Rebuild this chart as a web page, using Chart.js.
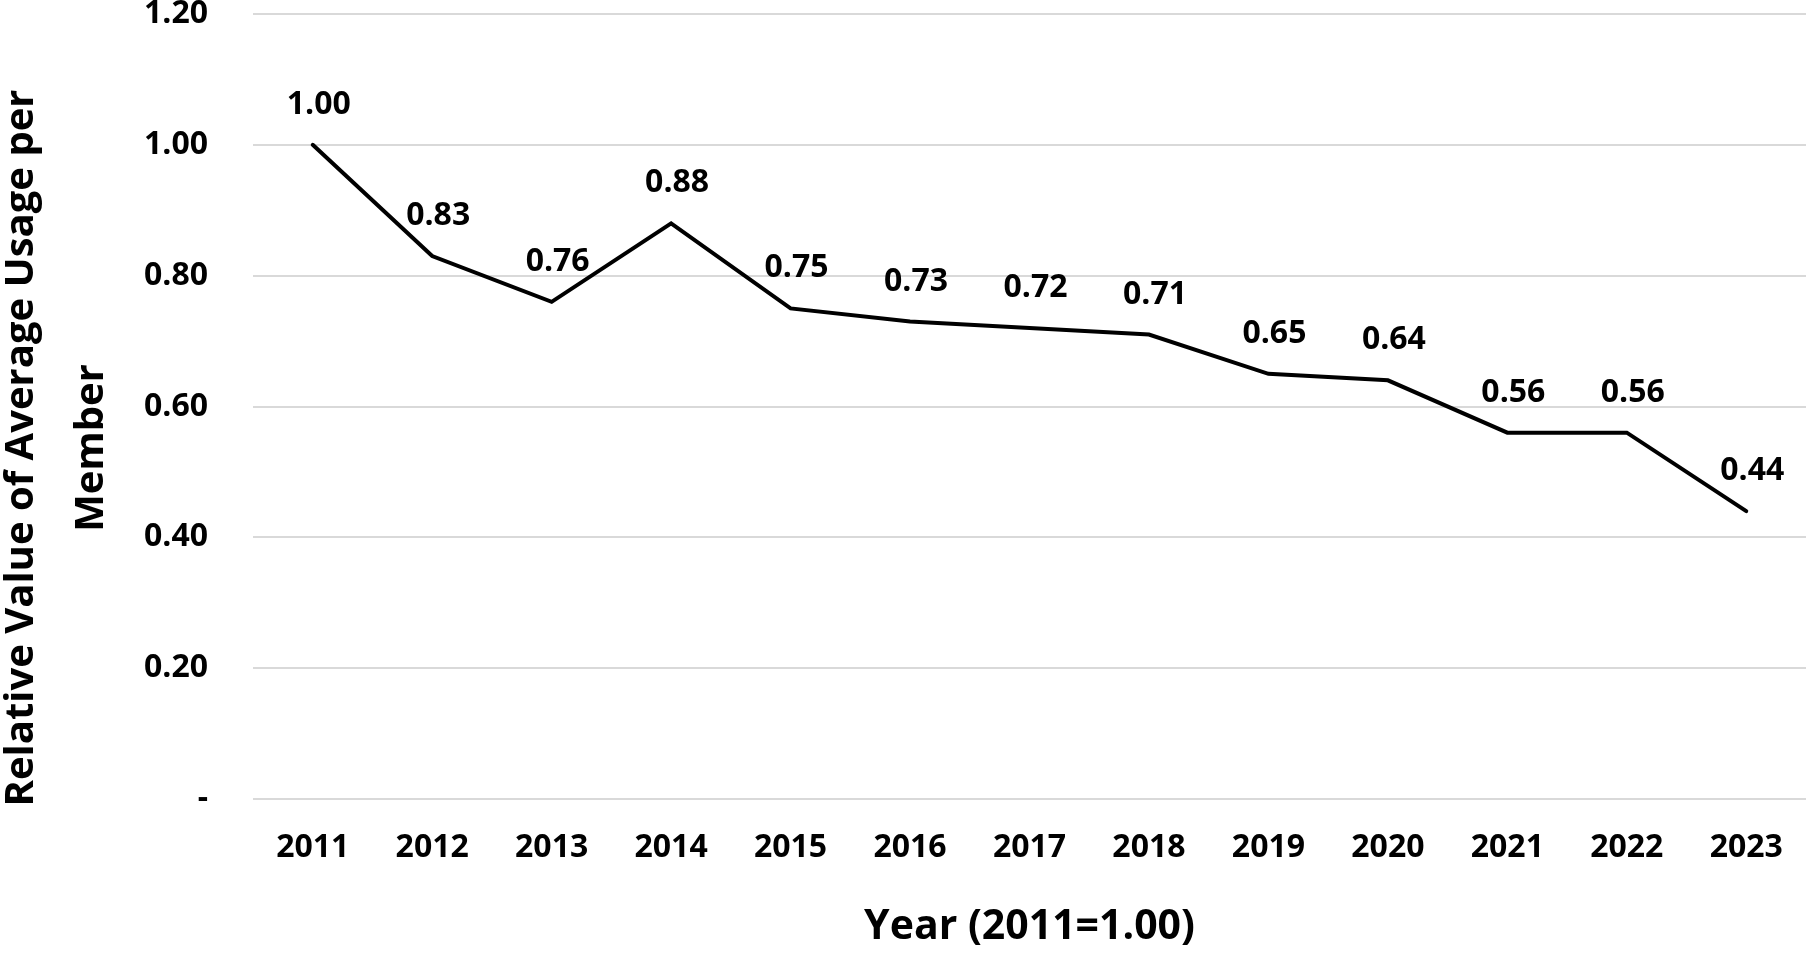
<!DOCTYPE html>
<html>
<head>
<meta charset="utf-8">
<script src="https://cdn.jsdelivr.net/npm/chart.js@4.4.0/dist/chart.umd.min.js"></script>
<style>
  html, body { margin: 0; padding: 0; background: #ffffff; }
  #wrap { width: 1807px; height: 955px; }
</style>
</head>
<body>
<div id="wrap"><canvas id="myChart" width="1807" height="955"></canvas></div>
<script>
var years = ['2011', '2012', '2013', '2014', '2015', '2016', '2017', '2018', '2019', '2020', '2021', '2022', '2023'];
var relValues = [1.00, 0.83, 0.76, 0.88, 0.75, 0.73, 0.72, 0.71, 0.65, 0.64, 0.56, 0.56, 0.44];
var yTicks = [0, 0.2, 0.4, 0.6, 0.8, 1.0, 1.2];

var FONT = "'Open Sans', 'Noto Sans', sans-serif";

// value labels above each point
var valueLabels = {
    id: 'valueLabels',
    afterDatasetsDraw: function (chart) {
        var c = chart.ctx;
        var meta = chart.getDatasetMeta(0);
        c.save();
        c.font = 'bold 32px ' + FONT;
        c.fillStyle = '#000000';
        c.textAlign = 'center';
        c.textBaseline = 'middle';
        meta.data.forEach(function (pt, i) {
            c.fillText(relValues[i].toFixed(2), pt.x + 6, pt.y - 40);
        });
        c.restore();
    }
};

// two-line y axis title, placed like the original
var yTitle = {
    id: 'yTitle',
    afterDraw: function (chart) {
        var c = chart.ctx;
        c.save();
        c.font = 'bold 40px ' + FONT;
        c.fillStyle = '#000000';
        c.textAlign = 'center';
        c.textBaseline = 'middle';
        c.translate(0, 448);
        c.rotate(-Math.PI / 2);
        c.fillText('Relative Value of Average Usage per', 0, 22);
        c.fillText('Member', 0, 92);
        c.restore();
    }
};

var ctx = document.getElementById('myChart').getContext('2d');
var myChart = new Chart(ctx, {
    type: 'line',
    data: {
        labels: years,
        datasets: [{
            label: 'Relative value',
            data: relValues,
            borderColor: '#000000',
            borderWidth: 4,
            pointRadius: 0,
            fill: false,
            tension: 0,
            borderCapStyle: 'round',
            borderJoinStyle: 'miter'
        }]
    },
    options: {
        responsive: false,
        animation: false,
        layout: {
            padding: { top: 14, right: 1, bottom: 0, left: 0 }
        },
        plugins: {
            legend: { display: false },
            tooltip: { enabled: false }
        },
        scales: {
            x: {
                offset: true,
                grid: { display: false, drawTicks: false },
                border: { display: false },
                ticks: {
                    color: '#000000',
                    padding: 30,
                    font: { family: FONT, size: 32, weight: 'bold' }
                },
                title: {
                    display: true,
                    text: 'Year (2011=1.00)',
                    color: '#000000',
                    font: { family: FONT, size: 41, weight: 'bold' },
                    padding: { top: 0, bottom: 3 }
                },
                afterFit: function (scale) {
                    scale.height = 156;
                    scale.paddingLeft = 0;
                    scale.paddingRight = 0;
                }
            },
            y: {
                min: 0,
                max: 1.2,
                afterBuildTicks: function (scale) {
                    scale.ticks = yTicks.map(function (v) { return { value: v }; });
                },
                grid: { color: '#d9d9d9', lineWidth: 2, drawTicks: false },
                border: { display: false },
                ticks: {
                    color: '#000000',
                    padding: 45,
                    font: { family: FONT, size: 32, weight: 'bold' },
                    callback: function (value) {
                        return value === 0 ? '-' : value.toFixed(2);
                    }
                },
                afterFit: function (scale) {
                    scale.width = 253;
                    scale.paddingTop = 0;
                    scale.paddingBottom = 0;
                }
            }
        }
    },
    plugins: [valueLabels, yTitle]
});
</script>
</body>
</html>
